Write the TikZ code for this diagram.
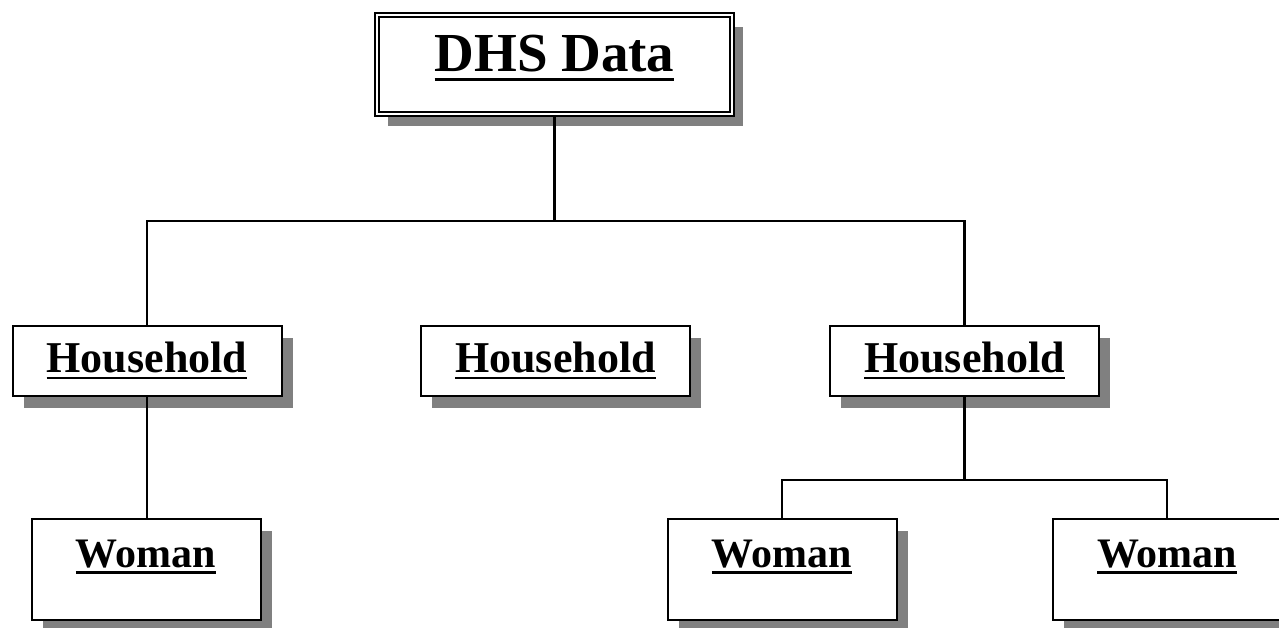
\documentclass[tikz,border=0pt]{standalone}
\usepackage{fontspec}
\setmainfont{Liberation Serif}
\usetikzlibrary{shadows}
\newcommand\ulword[1]{\setbox0\hbox{\bfseries #1}\rlap{\rule[-0.17em]{\wd0}{0.065em}}\box0}
\begin{document}
\begin{tikzpicture}[x=1pt, y=-1pt, line width=2.8pt,
    box/.style = {shape=rectangle, draw, line width=2pt, fill=white, inner sep=0pt,
                  drop shadow={shadow xshift=11pt, shadow yshift=-12pt, fill=black!50, opacity=1}},
    databox/.style = {box, double, double distance=2pt, line width=2pt,
                      minimum width=355pt, minimum height=99pt, text height=57pt, text depth=42pt,
                      font=\fontsize{55}{60}\selectfont},
    hhbox/.style = {box, minimum width=269pt, minimum height=70pt, text height=46pt, text depth=24pt,
                    font=\fontsize{44}{50}\selectfont},
    womanbox/.style = {box, minimum width=229pt, minimum height=101pt, text height=48pt, text depth=53pt,
                       font=\fontsize{42}{48}\selectfont}]
    \useasboundingbox (0,0) rectangle (1279,628);
    % top
    \node[databox] (dhs) at (554.5,64.5) {\ulword{DHS Data}};
    % households
    \node[hhbox] (hh1) at (147,361) {\ulword{Household}};
    \node[hhbox] (hh2) at (555.5,361) {\ulword{Household}};
    \node[hhbox] (hh3) at (964.5,361) {\ulword{Household}};
    % women
    \node[womanbox] (w1) at (146,569.5) {\ulword{Woman}};
    \node[womanbox] (w2) at (782,569.5) {\ulword{Woman}};
    \node[womanbox] (w3) at (1167,569.5) {\ulword{Woman}};
    % connectors
    \coordinate (bus) at (554.5,221);
    \coordinate (split) at (964.5,480);
    \draw (dhs.south) -- (bus);
    \draw (hh1.north) |- (bus) -| (hh3.north);
    \draw (hh1.south) -- (hh1.south |- w1.north);
    \draw (hh3.south) -- (split);
    \draw (w2.north) |- (split) -| (w3.north);
\end{tikzpicture}
\end{document}
